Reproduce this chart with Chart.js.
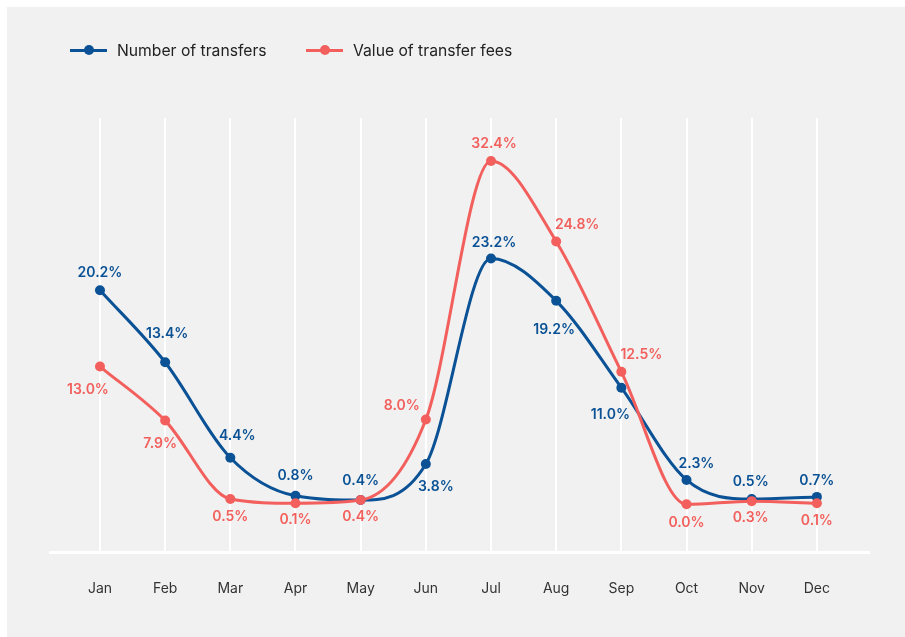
<!DOCTYPE html>
<html>
<head>
<meta charset="utf-8">
<script src="https://cdn.jsdelivr.net/npm/chart.js@4.4.1/dist/chart.umd.min.js"></script>
<style>
  html, body { margin: 0; padding: 0; background: #ffffff; width: 905px; height: 637px; overflow: hidden; }
  #panel { position: absolute; left: 7px; top: 7px; width: 898px; height: 630px; background: #f0f1f0; }
  #wrap { position: absolute; left: 0; top: 0; width: 905px; height: 637px; }
  .legend { position: absolute; top: 40px; height: 20px; display: flex; align-items: center;
            font-family: Inter, "Noto Sans", sans-serif; font-size: 15.7px; color: #222; }
  .mark { position: relative; width: 37px; height: 10px; margin-right: 10px; }
  .mark .ln { position: absolute; left: 0; right: 0; top: 3.5px; height: 3px; }
  .mark .dt { position: absolute; left: 13.5px; top: 0; width: 10px; height: 10px; border-radius: 50%; }
</style>
</head>
<body>
<div id="panel"></div>
<div id="wrap"><canvas id="c" width="905" height="637"></canvas></div>
<div class="legend" style="left:70px">
  <div class="mark"><div class="ln" style="background:#0a5195"></div><div class="dt" style="background:#0a5195"></div></div>
  <span>Number of transfers</span>
</div>
<div class="legend" style="left:306px">
  <div class="mark"><div class="ln" style="background:#f25f5c"></div><div class="dt" style="background:#f25f5c"></div></div>
  <span>Value of transfer fees</span>
</div>
<script>
const months = ["Jan","Feb","Mar","Apr","May","Jun","Jul","Aug","Sep","Oct","Nov","Dec"];
const numberOfTransfers = [20.2, 13.4, 4.4, 0.8, 0.4, 3.8, 23.2, 19.2, 11.0, 2.3, 0.5, 0.7];
const valueOfTransferFees = [13.0, 7.9, 0.5, 0.1, 0.4, 8.0, 32.4, 24.8, 12.5, 0.0, 0.3, 0.1];
const seriesNames = ["Number of transfers", "Value of transfer fees"];

// label offsets (pixels, relative to point) - styling only
const blueLabelOffsets = [[0,-17],[2,-28],[7,-22],[0,-20],[0,-19],[10,23],[3,-16],[-2,29],[-11,27],[10,-16],[-1,-17],[0,-16]];
const redLabelOffsets  = [[-12,23],[-5,23],[0,18],[0,17],[0,17],[-24,-14],[3,-17],[21,-17],[20,-17],[0,18],[-1,17],[0,18]];

const BLUE = "#0a5195", RED = "#f25f5c";

const toPoints = arr => arr.map((v, i) => ({x: i, y: v}));

const labelPlugin = {
  id: 'pointLabels',
  afterDatasetsDraw(chart) {
    const ctx = chart.ctx;
    ctx.save();
    ctx.font = '600 14px Inter, "Noto Sans", sans-serif';
    ctx.textAlign = 'center';
    ctx.textBaseline = 'middle';
    chart.data.datasets.forEach((ds, di) => {
      const meta = chart.getDatasetMeta(di);
      const offs = ds.labelOffsets;
      ctx.fillStyle = ds.borderColor;
      meta.data.forEach((pt, i) => {
        const v = ds.data[i].y;
        ctx.fillText(v.toFixed(1) + '%', pt.x + offs[i][0], pt.y + offs[i][1]);
      });
    });
    ctx.restore();
  }
};

new Chart(document.getElementById('c'), {
  type: 'line',
  data: {
    datasets: [
      { label: seriesNames[0], data: toPoints(numberOfTransfers), borderColor: BLUE, backgroundColor: BLUE,
        pointBackgroundColor: BLUE, pointBorderWidth: 0, pointRadius: 5, borderWidth: 3,
        cubicInterpolationMode: 'monotone',
        order: 1, labelOffsets: blueLabelOffsets },
      { label: seriesNames[1], data: toPoints(valueOfTransferFees), borderColor: RED, backgroundColor: RED,
        pointBackgroundColor: RED, pointBorderWidth: 0, pointRadius: 5, borderWidth: 3,
        cubicInterpolationMode: 'monotone',
        order: 0, labelOffsets: redLabelOffsets }
    ]
  },
  options: {
    responsive: false,
    animation: false,
    devicePixelRatio: 1,
    clip: false,
    layout: { padding: { left: 50, right: 36, top: 118, bottom: 35 } },
    plugins: { legend: { display: false }, tooltip: { enabled: false } },
    scales: {
      x: {
        type: 'linear',
        min: -0.767, max: 11.8,
        afterBuildTicks: s => { s.ticks = months.map((m, i) => ({value: i})); },
        afterFit: s => { s.height = 50; },
        grid: { color: '#ffffff', lineWidth: 2, drawTicks: false },
        border: { color: '#ffffff', width: 3 },
        ticks: {
          padding: 28,
          color: '#333333',
          font: { family: 'Inter, "Noto Sans", sans-serif', size: 14 },
          callback: v => months[v] ?? ''
        }
      },
      y: {
        display: false,
        min: -4.5, max: 36.45
      }
    }
  },
  plugins: [labelPlugin]
});
</script>
</body>
</html>
